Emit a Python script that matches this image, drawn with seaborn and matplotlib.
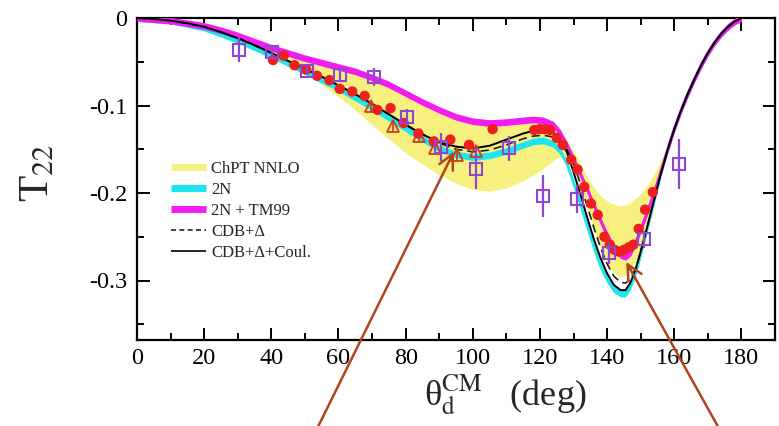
import matplotlib
matplotlib.use("Agg")
import numpy as np
import matplotlib.pyplot as plt
from matplotlib.lines import Line2D
from matplotlib.ticker import MultipleLocator
import seaborn as sns

# ---- theory curves: T22 versus deuteron CM angle (deg) ----
coul_theta = [0, 5, 10, 15, 20, 25, 30, 35, 40, 45, 50, 55, 60, 65, 70, 75, 80, 85, 90, 95,
              100, 105, 110, 115, 118, 121, 124, 126, 128, 130, 132, 134, 136, 138, 140, 142,
              144, 145.5, 147, 148.5, 150, 152, 154, 156, 158, 160, 162, 164, 166, 168, 170,
              172, 174, 176, 178, 180]
coul_t22 = [0.0, -0.001, -0.003, -0.006, -0.010, -0.016, -0.023, -0.031, -0.040, -0.049,
            -0.058, -0.067, -0.077, -0.087, -0.098, -0.110, -0.122, -0.133, -0.142, -0.147,
            -0.149, -0.146, -0.139, -0.132, -0.129, -0.128, -0.131, -0.139, -0.153, -0.176,
            -0.201, -0.227, -0.252, -0.274, -0.292, -0.305, -0.311, -0.311, -0.302, -0.287,
            -0.267, -0.238, -0.208, -0.178, -0.151, -0.127, -0.106, -0.087, -0.070, -0.054,
            -0.040, -0.028, -0.018, -0.010, -0.004, 0.0]

cdb_theta = [0, 10, 20, 30, 40, 50, 60, 70, 80, 90, 95, 100, 105, 110, 115, 118, 121, 124,
             126, 128, 130, 132, 134, 136, 138, 140, 142, 144, 145.5, 147, 148.5, 150, 152,
             154, 156, 158, 160, 162, 164, 166, 168, 170, 172, 174, 176, 178, 180]
cdb_t22 = [0.0, -0.003, -0.010, -0.023, -0.040, -0.058, -0.077, -0.098, -0.122, -0.143,
           -0.150, -0.153, -0.151, -0.145, -0.138, -0.135, -0.134, -0.136, -0.142, -0.150,
           -0.166, -0.189, -0.214, -0.239, -0.262, -0.281, -0.295, -0.302, -0.303, -0.298,
           -0.286, -0.267, -0.238, -0.208, -0.178, -0.151, -0.127, -0.106, -0.087, -0.070,
           -0.054, -0.040, -0.028, -0.018, -0.010, -0.004, 0.0]

nn_theta = [0, 10, 20, 30, 40, 50, 60, 70, 80, 85, 90, 95, 100, 105, 110, 115, 118, 121,
            124, 126, 128, 130, 132, 134, 136, 138, 140, 142, 144, 145.5, 147, 148.5, 150,
            152, 154, 156, 158, 160, 162, 164, 166, 168, 170, 172, 174, 176, 178, 180]
nn_t22 = [0.0, -0.003, -0.011, -0.025, -0.042, -0.061, -0.080, -0.102, -0.126, -0.138,
          -0.149, -0.156, -0.159, -0.157, -0.152, -0.145, -0.141, -0.140, -0.144, -0.152,
          -0.166, -0.188, -0.212, -0.237, -0.261, -0.283, -0.299, -0.310, -0.315, -0.315,
          -0.306, -0.291, -0.270, -0.240, -0.209, -0.178, -0.151, -0.127, -0.106, -0.087,
          -0.070, -0.054, -0.040, -0.028, -0.018, -0.010, -0.004, 0.0]

tm_theta = [0, 10, 20, 25, 30, 35, 40, 45, 50, 55, 60, 65, 70, 75, 80, 85, 90, 95, 100,
            105, 110, 115, 118, 121, 124, 126, 128, 130, 132, 134, 136, 138, 140, 142, 144,
            145.5, 147, 148.5, 150, 152, 154, 156, 158, 160, 162, 164, 166, 168, 170, 172,
            174, 176, 178, 180]
tm_t22 = [0.0, -0.003, -0.009, -0.014, -0.020, -0.027, -0.034, -0.040, -0.046, -0.051,
          -0.056, -0.061, -0.068, -0.076, -0.086, -0.096, -0.105, -0.113, -0.118, -0.120,
          -0.119, -0.117, -0.116, -0.117, -0.122, -0.131, -0.145, -0.161, -0.178, -0.195,
          -0.213, -0.231, -0.248, -0.262, -0.271, -0.273, -0.268, -0.257, -0.242, -0.222,
          -0.200, -0.176, -0.151, -0.127, -0.106, -0.087, -0.070, -0.054, -0.040, -0.028,
          -0.018, -0.010, -0.004, 0.0]

# half-width of the 2N and 2N+TM99 bands
band_half = 0.0038

# ChPT NNLO uncertainty band
chpt_theta = [38, 42, 46, 50, 55, 60, 65, 70, 75, 80, 85, 90, 95, 100, 105, 110, 115, 120,
              123, 125, 127.5, 130, 132, 134, 136, 138, 140, 142, 144, 146, 148, 150, 152,
              154, 156, 158, 159]
chpt_upper = [-0.034, -0.038, -0.042, -0.046, -0.051, -0.056, -0.061, -0.068, -0.076,
              -0.086, -0.096, -0.105, -0.113, -0.118, -0.120, -0.119, -0.117, -0.117,
              -0.120, -0.125, -0.137, -0.152, -0.166, -0.181, -0.194, -0.203, -0.209,
              -0.213, -0.215, -0.213, -0.208, -0.201, -0.191, -0.178, -0.163, -0.147, -0.138]
chpt_lower = [-0.037, -0.045, -0.054, -0.063, -0.076, -0.090, -0.105, -0.122, -0.138,
              -0.154, -0.167, -0.179, -0.189, -0.196, -0.198, -0.194, -0.186, -0.175,
              -0.166, -0.160, -0.158, -0.172, -0.193, -0.217, -0.241, -0.263, -0.280,
              -0.291, -0.296, -0.293, -0.282, -0.263, -0.237, -0.208, -0.178, -0.150, -0.138]

# ---- measurements ----
circ_theta = [40.5, 43.7, 46.9, 50.4, 53.6, 57.3, 60.4, 64.1, 67.8, 71.6, 75.5, 79.4, 83.8,
              88.4, 93.3, 98.9, 105.9, 118.3, 120.0, 121.5, 123.0, 125.0, 126.8, 129.3,
              131.2, 133.2, 135.2, 137.2, 139.2, 140.8, 142.2, 143.5, 145.0, 146.5, 147.8,
              149.4, 151.3, 153.6]
circ_t22 = [-0.048, -0.043, -0.054, -0.059, -0.066, -0.071, -0.081, -0.084, -0.089, -0.105,
            -0.103, -0.120, -0.132, -0.141, -0.139, -0.145, -0.127, -0.128, -0.127, -0.127,
            -0.128, -0.137, -0.145, -0.162, -0.173, -0.193, -0.212, -0.225, -0.250, -0.259,
            -0.265, -0.267, -0.265, -0.262, -0.259, -0.241, -0.219, -0.199]

tri_theta = [69.7, 76.1, 84.0, 88.8, 95.4, 100.9]
tri_t22 = [-0.101, -0.123, -0.135, -0.148, -0.157, -0.152]
tri_err = [0.006, 0.006, 0.006, 0.006, 0.006, 0.006]

sq_theta = [30.3, 40.3, 50.7, 60.4, 70.5, 80.3, 90.4, 100.9, 110.8, 120.8, 131.0, 140.7,
            151.0, 161.3]
sq_t22 = [-0.036, -0.039, -0.060, -0.065, -0.0675, -0.113, -0.147, -0.172, -0.149, -0.203,
          -0.207, -0.269, -0.253, -0.167]
sq_err = [0.0143, 0.006, 0.004, 0.008, 0.010, 0.0095, 0.016, 0.023, 0.0143, 0.024, 0.016,
          0.012, 0.010, 0.0286]

x_ticks = [0, 20, 40, 60, 80, 100, 120, 140, 160, 180]
x_tick_labels = ["0", "20", "40", "60", "80", "100", "120", "140", "160", "180"]
y_ticks = [0.0, -0.1, -0.2, -0.3]
y_tick_labels = ["0", "-0.1", "-0.2", "-0.3"]

legend_labels = ["ChPT NNLO", "2N", "2N + TM99", "CDB+Δ", "CDB+Δ+Coul."]

YELLOW = "#f6f17e"
CYAN = "#19e6ee"
MAGENTA = "#f21cf2"
RED = "#ee1f1f"
TRI = "#cf3b1d"
PURPLE = "#8f47d2"
ARROW = "#b2441d"

sns.set_theme(style="ticks")
plt.rcParams.update({
    "font.family": ["Liberation Serif", "DejaVu Serif"],
    "mathtext.fontset": "stix",
    "axes.unicode_minus": False,
})

fig = plt.figure(figsize=(7.79, 4.26), dpi=100)
ax = fig.add_axes([137 / 779, 1 - 340 / 426, (775 - 137) / 779, (340 - 18) / 426])
ax.set_facecolor("white")

# ChPT band
ax.fill_between(chpt_theta, chpt_lower, chpt_upper, color=YELLOW, lw=0, zorder=1)

# 2N and 2N+TM99 narrow bands with a core line
nn_arr = np.asarray(nn_t22)
tm_arr = np.asarray(tm_t22)
ax.fill_between(nn_theta, nn_arr - band_half, nn_arr + band_half, color=CYAN, lw=0, zorder=2)
sns.lineplot(x=nn_theta, y=nn_t22, ax=ax, color=CYAN, lw=1.9, zorder=2)
ax.fill_between(tm_theta, tm_arr - band_half, tm_arr + band_half, color=MAGENTA, lw=0,
                zorder=3)
sns.lineplot(x=tm_theta, y=tm_t22, ax=ax, color=MAGENTA, lw=2.1, zorder=3)

sns.lineplot(x=cdb_theta, y=cdb_t22, ax=ax, color="#202020", lw=1.2, zorder=4,
             linestyle=(0, (5, 3)))
sns.lineplot(x=coul_theta, y=coul_t22, ax=ax, color="black", lw=1.4, zorder=5)

ax.errorbar(tri_theta, tri_t22, yerr=tri_err, fmt="^", mfc="none", mec=TRI, ecolor=TRI,
            ms=9, mew=1.3, elinewidth=1.2, capsize=0, zorder=6)
sns.scatterplot(x=circ_theta, y=circ_t22, ax=ax, color=RED, s=56, edgecolor="none",
                zorder=7)
ax.errorbar(sq_theta, sq_t22, yerr=sq_err, fmt="s", mfc="none", mec=PURPLE, ecolor=PURPLE,
            ms=8, mew=1.5, elinewidth=1.6, capsize=0, zorder=8)

ax.set_xlim(0, 190)
ax.set_ylim(-0.368, 0.0)
ax.set_xticks(x_ticks)
ax.set_xticklabels(x_tick_labels)
ax.set_yticks(y_ticks)
ax.set_yticklabels(y_tick_labels)
ax.xaxis.set_minor_locator(MultipleLocator(10))
ax.yaxis.set_minor_locator(MultipleLocator(0.05))
ax.tick_params(which="both", direction="in", top=True, right=True, width=1.4,
               colors="black", labelsize=17.5)
ax.tick_params(which="major", length=9)
ax.tick_params(which="minor", length=5)
ax.tick_params(axis="x", pad=6)
ax.tick_params(axis="y", pad=7)
for s in ax.spines.values():
    s.set_linewidth(1.6)
    s.set_color("black")

ax.set_xlabel(r"θ$_{\mathrm{d}}^{\mathrm{CM}}$   (deg)", fontsize=26)
ax.xaxis.set_label_coords(0.577, -0.10)
ax.set_ylabel(r"T$_{22}$", fontsize=31)
ax.yaxis.set_label_coords(-0.125, 0.52)

handles = [
    Line2D([], [], color=YELLOW, lw=5, solid_capstyle="butt"),
    Line2D([], [], color=CYAN, lw=5, solid_capstyle="butt"),
    Line2D([], [], color=MAGENTA, lw=5, solid_capstyle="butt"),
    Line2D([], [], color="#202020", lw=1.2, linestyle=(0, (3, 2))),
    Line2D([], [], color="black", lw=1.2, solid_capstyle="butt"),
]
ax.legend(handles, legend_labels, loc="upper left", bbox_to_anchor=(0.054, 0.555),
          frameon=False, fontsize=12, handlelength=2.1, handletextpad=0.3,
          labelspacing=0.3, borderpad=0, borderaxespad=0)

arrow_style = dict(arrowstyle="->,head_length=0.9,head_width=0.45", color=ARROW, lw=1.8,
                   shrinkA=0, shrinkB=0)
ax.annotate("", xy=(94.4, -0.1525), xytext=(52.0, -0.482), arrowprops=arrow_style,
            annotation_clip=False, zorder=10)
ax.annotate("", xy=(145.7, -0.2788), xytext=(175.2, -0.482), arrowprops=arrow_style,
            annotation_clip=False, zorder=10)

fig.savefig("out.png", dpi=100)
